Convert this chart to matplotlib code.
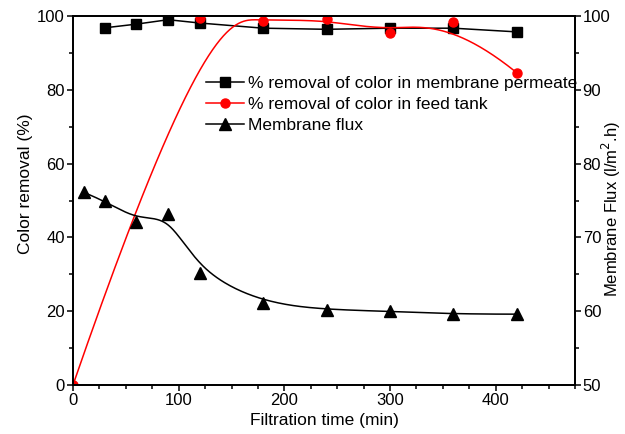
import numpy as np
import matplotlib.pyplot as plt
from matplotlib.ticker import MultipleLocator

plt.rcParams['font.family'] = ['Liberation Sans', 'DejaVu Sans']

# data
perm_time = [30, 60, 90, 120, 180, 240, 300, 360, 420]
perm_removal = [96.8, 97.8, 99.0, 98.1, 96.7, 96.4, 96.7, 96.7, 95.7]

feed_time = [0, 120, 180, 240, 300, 360, 420]
feed_removal = [0, 99.5, 98.7, 99.1, 95.5, 98.5, 84.6]

flux_time = [10, 30, 60, 90, 120, 180, 240, 300, 360, 420]
flux = [76.1, 75.0, 72.1, 73.2, 65.2, 61.1, 60.2, 60.0, 59.6, 59.6]


# clamped cubic B-spline with the points as control points (like Origin's B-spline line)
def bspline(x, y, n=300, k=3):
    pts = np.column_stack([x, y]).astype(float)
    m = len(pts)
    knots = np.concatenate([np.zeros(k), np.linspace(0, 1, m - k + 1), np.ones(k)])
    out = []
    for t in np.linspace(0, 1, n):
        j = np.searchsorted(knots, t, side='right') - 1
        j = min(j, m - 1)
        d = [pts[j - k + r].copy() for r in range(k + 1)]
        for r in range(1, k + 1):
            for jj in range(k, r - 1, -1):
                den = knots[jj + 1 + j - r] - knots[jj + j - k]
                a = 0 if den == 0 else (t - knots[jj + j - k]) / den
                d[jj] = (1 - a) * d[jj - 1] + a * d[jj]
        out.append(d[k])
    out = np.array(out)
    return out[:, 0], out[:, 1]


fig = plt.figure(figsize=(6.25, 4.34), dpi=100)
ax = fig.add_axes([0.1168, 0.1129, 0.8032, 0.8502])
ax2 = ax.twinx()

# permeate: straight line segments
ax.plot(perm_time, perm_removal, 's-', color='black', ms=6.5, lw=1.1)

rx, ry = bspline(feed_time, feed_removal)
ax.plot(rx, ry, color='red', lw=1.1)
ax.plot(feed_time, feed_removal, 'o', color='red', ms=6.5, ls='none')

fx, fy = bspline(flux_time, flux)
ax2.plot(fx, fy, color='black', lw=1.1)
ax2.plot(flux_time, flux, '^', color='black', ms=8.5, ls='none')

ax.set_xlim(0, 475)
ax.set_ylim(0, 100)
ax2.set_ylim(50, 100)

ax.xaxis.set_major_locator(MultipleLocator(100))
ax.xaxis.set_minor_locator(MultipleLocator(25))
ax.yaxis.set_major_locator(MultipleLocator(20))
ax.yaxis.set_minor_locator(MultipleLocator(10))
ax2.yaxis.set_major_locator(MultipleLocator(10))
ax2.yaxis.set_minor_locator(MultipleLocator(5))

for a in (ax, ax2):
    a.tick_params(which='major', direction='out', length=4.5, width=1.1, labelsize=12, pad=1.5)
    a.tick_params(which='minor', direction='out', length=3, width=1.1)
    for s in a.spines.values():
        s.set_linewidth(1.3)
ax2.tick_params(which='major', pad=1)

ax.set_xlabel('Filtration time (min)', fontsize=12.5, labelpad=3)
ax.set_ylabel('Color removal (%)', fontsize=12.5)
ax.yaxis.set_label_coords(-0.08, 0.545)
ax2.set_ylabel('Membrane Flux (l/m$^2$.h)', fontsize=12)
ax2.yaxis.set_label_coords(1.05, 0.477)

h1 = plt.Line2D([], [], color='black', marker='s', ms=6.5, lw=1.1)
h2 = plt.Line2D([], [], color='red', marker='o', ms=6.5, lw=1.1)
h3 = plt.Line2D([], [], color='black', marker='^', ms=8.5, lw=1.1)
ax2.legend([h1, h2, h3],
           ['% removal of color in membrane permeate',
            '% removal of color in feed tank',
            'Membrane flux'],
           loc='upper left', bbox_to_anchor=(0.318, 0.842), bbox_transform=fig.transFigure,
           frameon=False, fontsize=12.5, handlelength=2.2, handletextpad=0.25,
           labelspacing=0.35, borderaxespad=0)

fig.savefig('out.png', dpi=100)
